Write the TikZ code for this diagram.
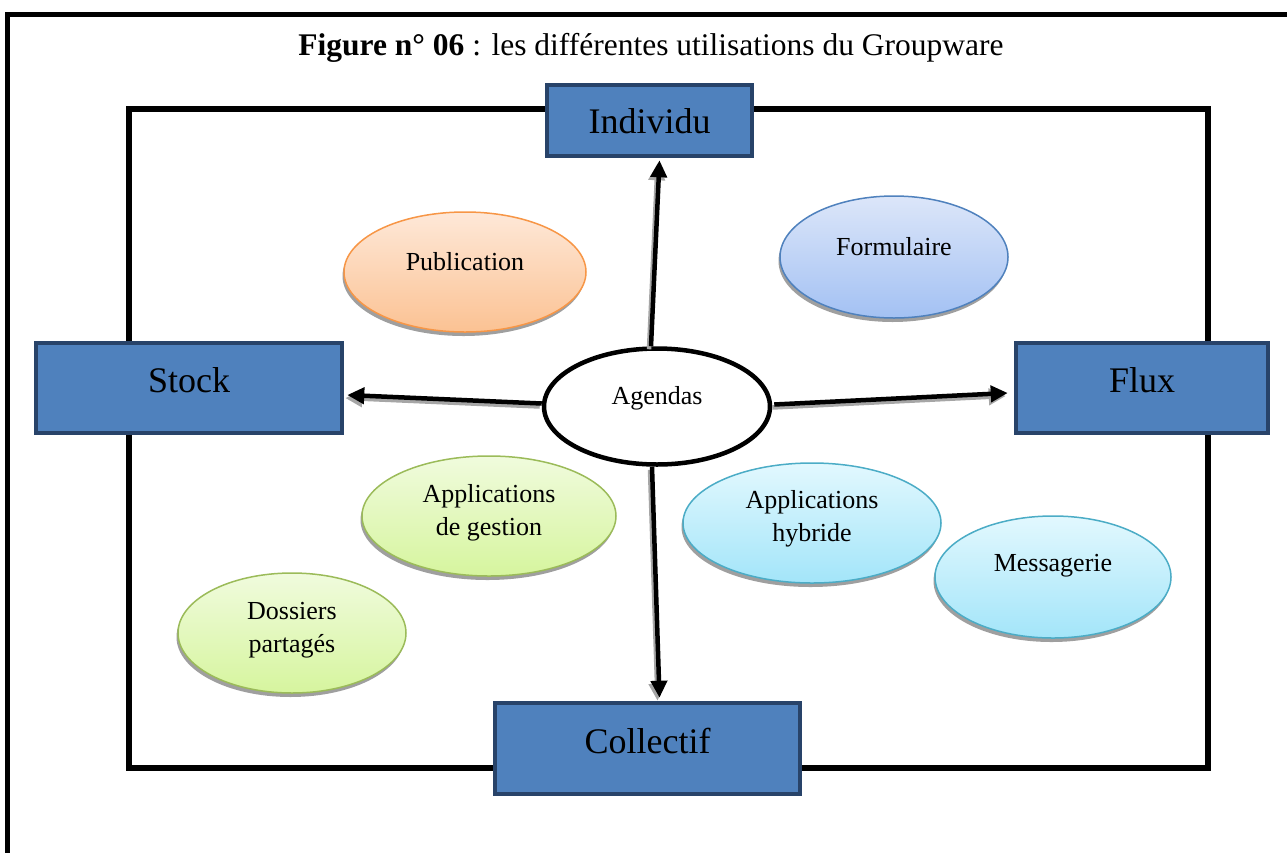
\documentclass[tikz,border=0pt]{standalone}
\usepackage{fontspec}
\setmainfont{Liberation Serif}
\usetikzlibrary{shapes.geometric,arrows.meta,shadows}
\definecolor{boxfill}{HTML}{4F81BD}
\definecolor{boxdraw}{HTML}{284369}
\definecolor{orgtop}{HTML}{FEE8D8}
\definecolor{orgbot}{HTML}{FBC293}
\definecolor{orgdraw}{HTML}{F79646}
\definecolor{blutop}{HTML}{DCE6F9}
\definecolor{blubot}{HTML}{A3C1F3}
\definecolor{bludraw}{HTML}{4F81BD}
\definecolor{grntop}{HTML}{F0FBDD}
\definecolor{grnbot}{HTML}{D6F59E}
\definecolor{grndraw}{HTML}{9BBB59}
\definecolor{cyntop}{HTML}{E2F8FE}
\definecolor{cynbot}{HTML}{A3E5F9}
\definecolor{cyndraw}{HTML}{4BACC6}
\tikzset{
  frameline/.style={line width=5.5pt, line cap=rect},
  catbox/.style={draw=boxdraw, fill=boxfill, line width=4.5pt, minimum width=#1, inner sep=0pt},
  boxlabel/.style={font=\fontsize{36}{40}\selectfont},
  oval/.style={ellipse, line width=1.5pt, inner sep=0pt, font=\fontsize{26}{33}\selectfont, align=center,
     drop shadow={shadow xshift=-1.5pt, shadow yshift=-4pt, fill=gray!75, opacity=1}},
  ovallabel/.style={font=\fontsize{26}{33}\selectfont, align=center},
  bigarrow/.style={line width=4.5pt, -{Triangle[length=17pt,width=16pt]}},
  arrowshadow/.style={line width=4.5pt, draw=gray!70, -{Triangle[length=17pt,width=16pt]}, transform canvas={xshift=-2pt,yshift=-3pt}}
}
\begin{document}
\begin{tikzpicture}[x=1pt,y=-1pt]
\useasboundingbox (0,0) rectangle (1287,852);
% outer frame (open to right and bottom)
\draw[line width=5pt] (7.5,860) -- (7.5,14) -- (1295,14);
% title
\node (title) at (651,48) {\fontsize{31.5}{36}\selectfont\textbf{Figure n° 06} : les différentes utilisations du Groupware};
% inner frame
\draw[frameline] (129,109) rectangle (1208,768);
% category boxes
\node[catbox=205pt, minimum height=71pt, label={[boxlabel, yshift=-1pt]center:Individu}] (ind) at (649.5,120.5) {};
\node[catbox=306pt, minimum height=90pt, label={[boxlabel, yshift=8pt]center:Stock}] (stock) at (189,388) {};
\node[catbox=252pt, minimum height=90pt, label={[boxlabel, yshift=8pt]center:Flux}] (flux) at (1142,388) {};
\node[catbox=305pt, minimum height=91pt, label={[boxlabel, yshift=8pt]center:Collectif}] (coll) at (647.5,748.5) {};
% ellipses
\node[oval, draw=orgdraw, top color=orgtop, bottom color=orgbot, minimum width=242pt, minimum height=120pt,
  label={[ovallabel, yshift=10pt]center:Publication}] (pub) at (465,272) {};
\node[oval, draw=bludraw, top color=blutop, bottom color=blubot, minimum width=228pt, minimum height=122pt,
  label={[ovallabel, yshift=10pt]center:Formulaire}] (form) at (894,257) {};
\node[oval, draw=grndraw, top color=grntop, bottom color=grnbot, minimum width=254pt, minimum height=120pt,
  label={[ovallabel, yshift=3pt]center:Applications\\de gestion}] (gest) at (489,516) {};
\node[oval, draw=grndraw, top color=grntop, bottom color=grnbot, minimum width=228pt, minimum height=120pt,
  label={[ovallabel, yshift=3pt]center:Dossiers\\partagés}] (doss) at (292,633) {};
\node[oval, draw=cyndraw, top color=cyntop, bottom color=cynbot, minimum width=258pt, minimum height=120pt,
  label={[ovallabel, yshift=4pt]center:Applications\\hybride}] (hyb) at (812,523) {};
\node[oval, draw=cyndraw, top color=cyntop, bottom color=cynbot, minimum width=236pt, minimum height=122pt,
  label={[ovallabel, yshift=11pt]center:Messagerie}] (mess) at (1053,577) {};
% central ellipse
\node[ellipse, draw=black, fill=white, line width=4.5pt, minimum width=226pt, minimum height=116pt, inner sep=0pt,
  label={[ovallabel, yshift=8pt]center:Agendas}] (ag) at (657,406.5) {};
% arrows (shadows first)
\draw[arrowshadow] ([xshift=-6pt]ag.north) -- ([xshift=10pt,yshift=-2pt]ind.south);
\draw[arrowshadow] ([yshift=3pt]ag.west) -- ([xshift=3pt,yshift=-7pt]stock.east);
\draw[arrowshadow] ([xshift=2pt,yshift=2pt]ag.east) -- ([xshift=-6pt,yshift=-5pt]flux.west);
\draw[arrowshadow] ([xshift=-5pt]ag.south) -- ([xshift=12pt,yshift=3pt]coll.north);
\draw[bigarrow] ([xshift=-6pt]ag.north) -- ([xshift=10pt,yshift=-2pt]ind.south);
\draw[bigarrow] ([yshift=3pt]ag.west) -- ([xshift=3pt,yshift=-7pt]stock.east);
\draw[bigarrow] ([xshift=2pt,yshift=2pt]ag.east) -- ([xshift=-6pt,yshift=-5pt]flux.west);
\draw[bigarrow] ([xshift=-5pt]ag.south) -- ([xshift=12pt,yshift=3pt]coll.north);
\end{tikzpicture}
\end{document}
